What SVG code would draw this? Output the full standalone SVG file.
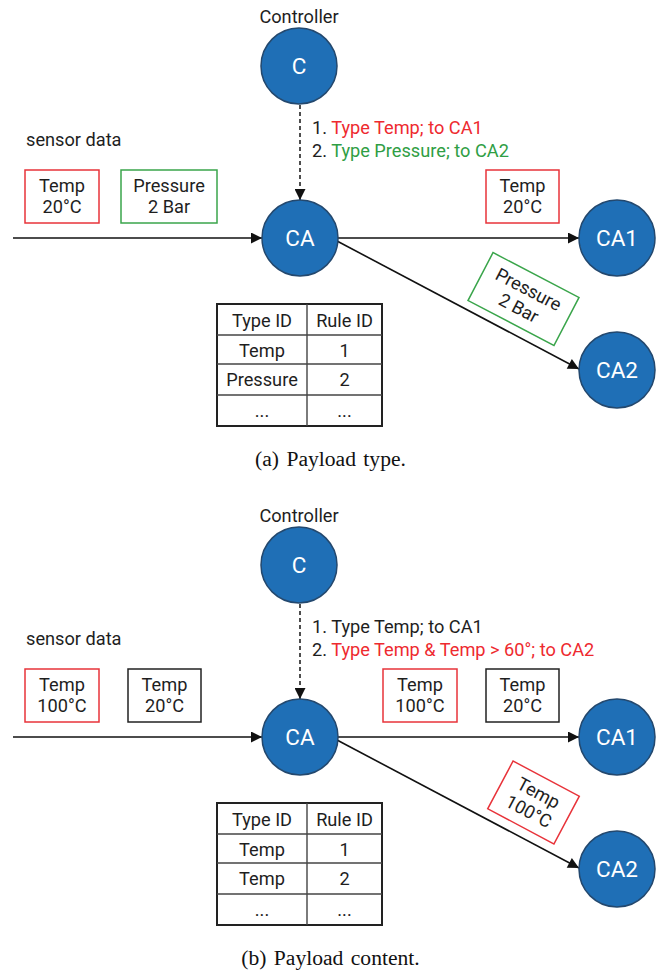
<svg xmlns="http://www.w3.org/2000/svg" width="663" height="973" viewBox="0 0 663 973">
<defs>
<style>
.t{font-family:Roboto,"Liberation Sans",sans-serif;font-size:18.2px;fill:#1e1e1e}
.c{text-anchor:middle}
.node{fill:#1f6fb6;stroke:#23486e;stroke-width:1.5}
.nl{font-family:Roboto,"Liberation Sans",sans-serif;font-size:22.5px;fill:#fff;text-anchor:middle}
.edge{stroke:#111;stroke-width:1.6;fill:none}
.dash{stroke:#222;stroke-width:1.6;fill:none;stroke-dasharray:4 3}
.red{fill:#ee2a2f}
.green{fill:#2f9e44}
.bred{fill:#fff;stroke:#e8333a;stroke-width:1.5}
.bgreen{fill:#fff;stroke:#3aa54b;stroke-width:1.5}
.bblack{fill:#fff;stroke:#222;stroke-width:1.5}
.tbl{fill:#fff;stroke:#222;stroke-width:2}
.tl{stroke:#444;stroke-width:1.4}
.cap{font-family:"Liberation Serif",serif;font-size:21.6px;fill:#111;text-anchor:middle;word-spacing:2px}
</style>
<marker id="ah" viewBox="0 0 10 10" refX="10" refY="5" markerWidth="12" markerHeight="11" markerUnits="userSpaceOnUse" orient="auto">
<path d="M0,0 L10,5 L0,10 z" fill="#111"/>
</marker>
</defs>

<!-- ===== Panel (a) ===== -->
<g id="a-connectors">
<line class="edge" x1="13" y1="238" x2="262" y2="238" marker-end="url(#ah)"/>
<line class="edge" x1="338" y1="238" x2="579" y2="238" marker-end="url(#ah)"/>
<line class="edge" x1="337" y1="241" x2="579" y2="369" marker-end="url(#ah)"/>
<line class="dash" x1="300" y1="105" x2="300" y2="200" marker-end="url(#ah)"/>
</g>
<g id="a-controller">
<text class="t c" x="299" y="23">Controller</text>
<circle class="node" cx="299" cy="66" r="38"/>
<text class="nl" x="299" y="74">C</text>
</g>
<g id="a-rules">
<text class="t" x="312" y="134">1. <tspan class="red">Type Temp; to CA1</tspan></text>
<text class="t" x="312" y="157">2. <tspan class="green">Type Pressure; to CA2</tspan></text>
</g>
<g id="a-sensor">
<text class="t" x="26" y="146">sensor data</text>
</g>
<g id="a-msg-temp">
<rect class="bred" x="25" y="170" width="74" height="53"/>
<text class="t c" x="62" y="192">Temp</text>
<text class="t c" x="62" y="213">20°C</text>
</g>
<g id="a-msg-pressure">
<rect class="bgreen" x="121" y="170" width="96" height="53"/>
<text class="t c" x="169" y="192">Pressure</text>
<text class="t c" x="169" y="213">2 Bar</text>
</g>
<g id="a-ca">
<circle class="node" cx="300" cy="238" r="38"/>
<text class="nl" x="300" y="246">CA</text>
</g>
<g id="a-msg-temp-out">
<rect class="bred" x="486" y="170" width="73" height="53"/>
<text class="t c" x="522.5" y="192">Temp</text>
<text class="t c" x="522.5" y="213">20°C</text>
</g>
<g id="a-ca1">
<circle class="node" cx="617" cy="238" r="38"/>
<text class="nl" x="617" y="246">CA1</text>
</g>
<g id="a-msg-pressure-out" transform="translate(523.5,299) rotate(27.6)">
<rect class="bgreen" x="-48.5" y="-27" width="97" height="54"/>
<text class="t c" x="0" y="-4.5">Pressure</text>
<text class="t c" x="0" y="16.5">2 Bar</text>
</g>
<g id="a-ca2">
<circle class="node" cx="617" cy="370" r="38"/>
<text class="nl" x="617" y="378">CA2</text>
</g>
<g id="a-table">
<rect class="tbl" x="217" y="304" width="165" height="122"/>
<line class="tl" x1="307" y1="304" x2="307" y2="426"/>
<line class="tl" x1="217" y1="335" x2="382" y2="335"/>
<line class="tl" x1="217" y1="364" x2="382" y2="364"/>
<line class="tl" x1="217" y1="395" x2="382" y2="395"/>
<text class="t c" x="262" y="327">Type ID</text>
<text class="t c" x="344.5" y="327">Rule ID</text>
<text class="t c" x="262" y="357">Temp</text>
<text class="t c" x="344.5" y="357">1</text>
<text class="t c" x="262" y="386">Pressure</text>
<text class="t c" x="344.5" y="386">2</text>
<text class="t c" x="262" y="417">...</text>
<text class="t c" x="344.5" y="417">...</text>
</g>
<text class="cap" x="330.5" y="466">(a) Payload type.</text>

<!-- ===== Panel (b) ===== -->
<g id="b-connectors">
<line class="edge" x1="13" y1="737" x2="262" y2="737" marker-end="url(#ah)"/>
<line class="edge" x1="338" y1="737" x2="579" y2="737" marker-end="url(#ah)"/>
<line class="edge" x1="337" y1="740" x2="579" y2="868" marker-end="url(#ah)"/>
<line class="dash" x1="300" y1="604" x2="300" y2="699" marker-end="url(#ah)"/>
</g>
<g id="b-controller">
<text class="t c" x="299" y="522">Controller</text>
<circle class="node" cx="299" cy="565" r="38"/>
<text class="nl" x="299" y="573">C</text>
</g>
<g id="b-rules">
<text class="t" x="312" y="633">1. Type Temp; to CA1</text>
<text class="t" x="312" y="656">2. <tspan class="red">Type Temp &amp; Temp &gt; 60°; to CA2</tspan></text>
</g>
<g id="b-sensor">
<text class="t" x="26" y="645">sensor data</text>
</g>
<g id="b-msg-temp100">
<rect class="bred" x="25" y="669" width="74" height="53"/>
<text class="t c" x="62" y="691">Temp</text>
<text class="t c" x="62" y="712">100°C</text>
</g>
<g id="b-msg-temp20">
<rect class="bblack" x="128" y="669" width="73" height="53"/>
<text class="t c" x="164.5" y="691">Temp</text>
<text class="t c" x="164.5" y="712">20°C</text>
</g>
<g id="b-ca">
<circle class="node" cx="300" cy="737" r="38"/>
<text class="nl" x="300" y="745">CA</text>
</g>
<g id="b-msg-temp100-out">
<rect class="bred" x="383" y="669" width="74" height="53"/>
<text class="t c" x="420" y="691">Temp</text>
<text class="t c" x="420" y="712">100°C</text>
</g>
<g id="b-msg-temp20-out">
<rect class="bblack" x="486" y="669" width="73" height="53"/>
<text class="t c" x="522.5" y="691">Temp</text>
<text class="t c" x="522.5" y="712">20°C</text>
</g>
<g id="b-ca1">
<circle class="node" cx="617" cy="737" r="38"/>
<text class="nl" x="617" y="745">CA1</text>
</g>
<g id="b-msg-temp100-diag" transform="translate(533.5,802.5) rotate(28)">
<rect class="bred" x="-37.5" y="-27" width="75" height="54"/>
<text class="t c" x="0" y="-4.5">Temp</text>
<text class="t c" x="0" y="16.5">100°C</text>
</g>
<g id="b-ca2">
<circle class="node" cx="617" cy="869" r="38"/>
<text class="nl" x="617" y="877">CA2</text>
</g>
<g id="b-table">
<rect class="tbl" x="217" y="803" width="165" height="122"/>
<line class="tl" x1="307" y1="803" x2="307" y2="925"/>
<line class="tl" x1="217" y1="834" x2="382" y2="834"/>
<line class="tl" x1="217" y1="863" x2="382" y2="863"/>
<line class="tl" x1="217" y1="894" x2="382" y2="894"/>
<text class="t c" x="262" y="826">Type ID</text>
<text class="t c" x="344.5" y="826">Rule ID</text>
<text class="t c" x="262" y="856">Temp</text>
<text class="t c" x="344.5" y="856">1</text>
<text class="t c" x="262" y="885">Temp</text>
<text class="t c" x="344.5" y="885">2</text>
<text class="t c" x="262" y="916">...</text>
<text class="t c" x="344.5" y="916">...</text>
</g>
<text class="cap" x="330.5" y="965">(b) Payload content.</text>
</svg>
